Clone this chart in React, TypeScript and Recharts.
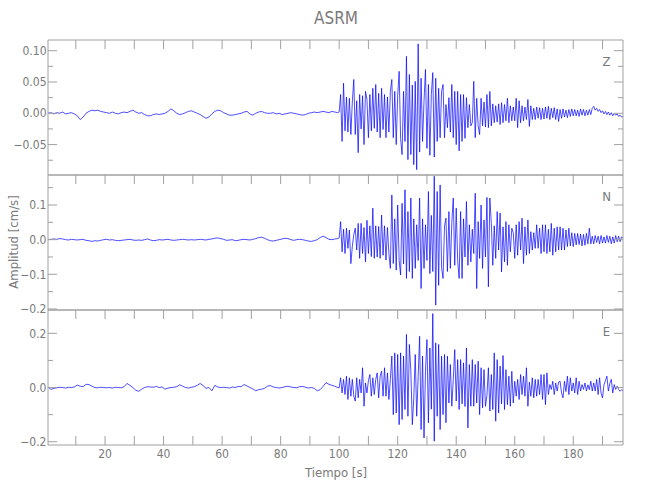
import React from 'react'
import { LineChart, Line, XAxis, YAxis } from 'recharts'

const FONT = "'Liberation Sans Narrow', 'DejaVu Sans Condensed', 'Liberation Sans', sans-serif"
const AXIS = '#a0a0a0'
const TEXT = '#7a7a7a'
const TRACE = '#0000ff'

// tiempo [s]
const timeTicks = [10, 20, 30, 40, 50, 60, 70, 80, 90, 100, 110, 120, 130, 140, 150, 160, 170, 180, 190]
const timeLabels = [20, 40, 60, 80, 100, 120, 140, 160, 180]
const timeDomain = [0.5, 197]

// muestreo: antes del evento cada 1 s desde 0.5 s, evento cada 0.5 s desde 100 s
const PRE_START = 0.5
const PRE_STEP = 1
const EVT_START = 100
const EVT_STEP = 0.5

// amplitudes en milesimas de cm/s
const zPre = [
  0, 1, -1, 1, 0, 2, -1, 0, 1, -1,
  -4, -10, -6, 0, 3, 5, 4, 5, 3, 2,
  1, 0, 2, 0, -1, 1, 2, 1, 3, 5,
  2, 0, 1, -2, -4, -4, -2, -1, -2, -1,
  0, 3, 7, 4, 0, -2, -1, 1, 3, 4,
  2, 0, -2, -5, -8, -6, -1, 3, 5, 4,
  1, -1, -3, -3, -2, -1, 0, 2, 3, -1,
  -3, 0, 2, 3, 1, 0, 0, 1, -1, 0,
  -2, -1, 0, 1, 0, -1, -2, -3, -2, 0,
  1, 2, 1, 2, 3, 2, 1, 3, 2, 1,
]
const zEvent = [
  2,
  30, -45, 48, -28, 26, -30, 24, -34, 18, 54,
  -34, 20, -63, 30, -25, 28, -50, 35, 22, -39,
  30, -28, 40, -24, 46, -30, 32, -39, 40, -26,
  30, -39, 26, -30, 35, 54, -39, 35, -50, 28,
  67, -40, -66, 35, -45, 91, -74, 62, -66, 45,
  -82, 51, -90, 111, -62, 56, -45, 20, 70, -56,
  46, -67, 30, 65, -70, 56, -45, 40, -39, 35,
  46, -39, 14, -23, 25, -30, 46, -39, 35, -50,
  35, -60, 30, -45, 30, -40, 25, -23, 14, -20,
  -15, 51, -39, 24, -20, -34, 24, -20, 18, -22,
  30, -23, 35, -20, 15, -15, 12, -14, 15, -18,
  17, -15, 14, -12, 24, -15, 12, -12, 10, -12,
  24, -23, 20, -15, 12, -12, 10, -10, 22, -21,
  12, -10, 8, -10, 10, -8, 9, -10, 8, -9,
  10, -8, 11, -10, 8, -7, 9, -10, 7, -13,
  6, -8, 7, -6, 5, -7, 6, -5, 7, -4,
  6, -4, 5, -5, 7, -3, 6, -4, 5, -3,
  6, -2, 8, 11, 5, 8, 3, 6, 1, 4,
  -1, 3, -2, 2, -3, 1, -4, 0, -3, -1,
  -5, -3, -6, -5,
]

const nPre = [
  0, 1, 2, 1, 3, 2, 0, -1, 1, 0,
  -1, 0, 1, -2, -3, -5, -3, -4, -2, 0,
  1, -1, 0, -2, -3, -2, -1, 0, 1, -1,
  -2, -1, -2, 0, 2, -1, -3, -2, 0, -1,
  0, 1, -1, -2, -1, 0, 1, 0, -1, 0,
  -1, 0, 1, 0, -1, 1, 2, 4, 5, 3,
  1, -2, -1, 0, -3, -2, 0, 1, 0, -1,
  1, 3, 6, 7, 4, 0, -3, -4, -2, 0,
  2, 4, 3, 0, -2, 0, 1, 0, -2, -4,
  -5, -3, 0, 6, 10, 6, 1, 0, 2, 3,
]
const nEvent = [
  5,
  52, -35, 30, -40, 33, -25, 28, -69, -20, 15,
  33, -30, 47, -54, 47, -40, 35, -64, 56, -40,
  40, -49, 91, -54, 40, -50, 38, -54, 71, -45,
  40, -59, 35, -40, -83, 129, -69, 60, -88, 100,
  -60, -102, 105, -70, 144, -112, 81, -92, 120, -112,
  60, -83, 43, -60, 120, -141, 60, -83, 43, -60,
  139, -98, 70, -92, 183, -189, 139, -132, 158, -80,
  -112, 40, 62, -92, 81, -83, 50, 120, -74, 91,
  -60, -112, 81, -112, 60, -50, 110, -74, 43, -64,
  30, -40, 134, -141, 52, -54, 100, -83, 57, -50,
  122, -136, 120, 47, -74, 40, -54, 81, -30, 77,
  -93, 37, -64, 52, -74, 43, -35, 33, 20, -54,
  43, -45, 52, -30, 62, -69, 37, -45, 57, -40,
  23, -30, 20, -25, 43, -25, 33, -40, 43, -35,
  43, -40, 30, -35, 47, -45, 33, -35, 37, -30,
  37, -30, 33, -30, 28, -20, 33, -18, 20, -20,
  18, -15, 18, -14, 16, -18, 15, -16, 18, -12,
  33, -12, 10, -12, 12, -8, 10, -12, 12, -10,
  8, -10, 12, -8, 10, -12, 8, -10, 12, -6,
  10, -6, 8, 4,
]

const ePre = [
  2, -7, -3, -1, 1, 0, -2, 1, 0, 2,
  9, 5, 3, 12, 11, 5, 0, -1, 1, 0,
  -1, 0, -2, 1, 0, -1, 3, 15, 8, 0,
  -10, -14, -6, 0, 3, 2, 1, 4, 0, 2,
  -6, -2, 0, 1, 3, 10, 5, 0, -2, 1,
  3, 8, 15, 7, -3, 0, -12, 8, 2, 0,
  1, 0, -2, 2, 0, 4, 3, 11, 6, 0,
  -5, -12, -8, -6, -3, 5, 7, 2, 0, -2,
  0, 3, 5, 2, 0, -1, 3, 4, 1, -2,
  0, -3, -12, -8, 4, 18, 12, 8, 5, 0,
]
const eEvent = [
  -1,
  36, -20, 30, -26, 42, -44, 36, -32, 30, -32,
  -50, 36, -38, 30, -20, 73, -69, 17, -20, 25,
  48, -32, 36, -26, 30, 54, -38, 42, 60, -32,
  73, -32, 54, -44, 30, 116, -100, 128, -94, 122,
  -137, 128, -118, 116, -81, 196, -106, 159, 60, -137,
  -40, 122, -106, 40, 189, -155, 116, -186, 60, 177,
  -130, 146, -80, 273, -198, 165, -106, 159, -155, 116,
  -100, 122, -130, 116, -57, 85, -69, 30, 140, -50,
  103, -81, 103, -60, 91, -70, 146, -149, 85, -69,
  103, -69, 85, -57, 97, -100, 73, -75, 66, -69,
  -30, 73, -87, 48, -81, 128, -124, 103, -94, 79,
  -60, 118, -81, 66, -63, 42, -69, 60, -57, 23,
  -32, 30, -44, 48, -26, 42, -32, 73, -69, 20,
  -32, 36, -38, 30, -32, 30, -26, 48, -44, 48,
  -63, 54, -26, 11, -7, 23, -26, 17, -13, 20,
  23, -20, -38, 23, -15, 42, -26, 36, -13, 17,
  -20, 36, -26, 23, -13, 11, -7, 17, -13, 10,
  -8, 23, -13, 17, -13, 30, -26, 36, -20, -38,
  10, 25, 42, -13, 15, 30, -20, 11, -7, 5,
  -7, -14, -8, -12,
]

const buildTrace = (pre: number[], evt: number[]) => [
  ...pre.map((v, i) => ({ t: PRE_START + i * PRE_STEP, v: v / 1000 })),
  ...evt.map((v, i) => ({ t: EVT_START + i * EVT_STEP, v: v / 1000 })),
]

const panels = [
  {
    name: 'Z', data: buildTrace(zPre, zEvent), domain: [-0.0986, 0.1171],
    major: [-0.05, 0, 0.05, 0.1], minor: [-0.075, -0.025, 0.025, 0.075], digits: 2,
    top: 40, bottom: 175, showTime: false,
  },
  {
    name: 'N', data: buildTrace(nPre, nEvent), domain: [-0.203, 0.1866],
    major: [-0.2, -0.1, 0, 0.1], minor: [-0.15, -0.05, 0.05, 0.15], digits: 1,
    top: 175, bottom: 310, showTime: false,
  },
  {
    name: 'E', data: buildTrace(ePre, eEvent), domain: [-0.212, 0.286],
    major: [-0.2, 0, 0.2], minor: [-0.1, 0.1], digits: 1,
    top: 310, bottom: 445, showTime: true,
  },
]

const AX_H = 20
const fmt = (v: number, d: number) => v.toFixed(d).replace('-', '\u2212')

function Panel({ p }: { p: any }) {
  const yTicks = [...p.major, ...p.minor].sort((a, b) => a - b)

  const leftTick = (props: any) => {
    const { x, y, payload } = props
    const isMajor = p.major.includes(payload.value)
    return (
      <g>
        <line x1={x} x2={x + (isMajor ? 9 : 5)} y1={y} y2={y} stroke={AXIS} />
        {isMajor && (
          <text x={x - 1.5} y={y} dy="0.35em" textAnchor="end" fill={TEXT} fontSize={12} fontFamily={FONT}>
            {fmt(payload.value, p.digits)}
          </text>
        )}
      </g>
    )
  }
  const rightTick = (props: any) => {
    const { x, y, payload } = props
    const isMajor = p.major.includes(payload.value)
    return <line x1={x} x2={x - (isMajor ? 9 : 5)} y1={y} y2={y} stroke={AXIS} />
  }
  const topTick = (props: any) => {
    const { x, y } = props
    return <line x1={x} x2={x} y1={y} y2={y + 9} stroke={AXIS} />
  }
  const bottomTick = (props: any) => {
    const { x, y, payload } = props
    if (!p.showTime) return <g />
    return (
      <g>
        <line x1={x} x2={x} y1={y} y2={y - 9} stroke={AXIS} />
        {timeLabels.includes(payload.value) && (
          <text x={x} y={y + 9} dy="0.35em" textAnchor="middle" fill={TEXT} fontSize={12} fontFamily={FONT}>
            {payload.value}
          </text>
        )}
      </g>
    )
  }

  return (
    <div style={{ position: 'absolute', left: 0, top: 0 }}>
      <LineChart
        width={650}
        height={500}
        data={p.data}
        margin={{ top: p.top - AX_H, bottom: 500 - p.bottom - AX_H, left: 0, right: 0 }}
      >
        <XAxis
          xAxisId="b" type="number" dataKey="t" domain={timeDomain} allowDataOverflow
          ticks={timeTicks} interval={0} height={AX_H} tickSize={0} tickMargin={0}
          tickLine={false} axisLine={{ stroke: AXIS }} tick={bottomTick}
        />
        <XAxis
          xAxisId="t" orientation="top" type="number" dataKey="t" domain={timeDomain} allowDataOverflow
          ticks={timeTicks} interval={0} height={AX_H} tickSize={0} tickMargin={0}
          tickLine={false} axisLine={{ stroke: AXIS }} tick={topTick}
        />
        <YAxis
          yAxisId="l" type="number" domain={p.domain} allowDataOverflow ticks={yTicks} interval={0}
          width={48} tickSize={0} tickMargin={0} tickLine={false} axisLine={{ stroke: AXIS }} tick={leftTick}
        />
        <YAxis
          yAxisId="r" orientation="right" type="number" domain={p.domain} allowDataOverflow ticks={yTicks}
          interval={0} width={27} tickSize={0} tickMargin={0} tickLine={false} axisLine={{ stroke: AXIS }}
          tick={rightTick}
        />
        <Line
          xAxisId="b" yAxisId="l" type="linear" dataKey="v" stroke={TRACE} strokeWidth={0.7}
          dot={false} isAnimationActive={false}
        />
      </LineChart>
    </div>
  )
}

export default function App() {
  return (
    <div style={{ position: 'absolute', left: 0, top: 0, width: 650, height: 500, background: '#fff' }}>
      {panels.map((p) => (
        <Panel key={p.name} p={p} />
      ))}
      <svg width={650} height={500} style={{ position: 'absolute', left: 0, top: 0, pointerEvents: 'none' }}>
        <text x={336} y={18} dy="0.35em" textAnchor="middle" fill={TEXT} fontSize={17} fontFamily={FONT}>
          ASRM
        </text>
        {panels.map((p) => (
          <text key={p.name} x={606.5} y={p.top + 21} dy="0.35em" textAnchor="middle" fill={TEXT} fontSize={13} fontFamily={FONT}>
            {p.name}
          </text>
        ))}
        <text x={336} y={472} dy="0.35em" textAnchor="middle" fill={TEXT} fontSize={13} fontFamily={FONT}>
          Tiempo [s]
        </text>
        <text
          x={13.5} y={242} dy="0.35em" textAnchor="middle" fill={TEXT} fontSize={13} fontFamily={FONT}
          transform="rotate(-90 13.5 242)"
        >
          Amplitud [cm/s]
        </text>
      </svg>
    </div>
  )
}
